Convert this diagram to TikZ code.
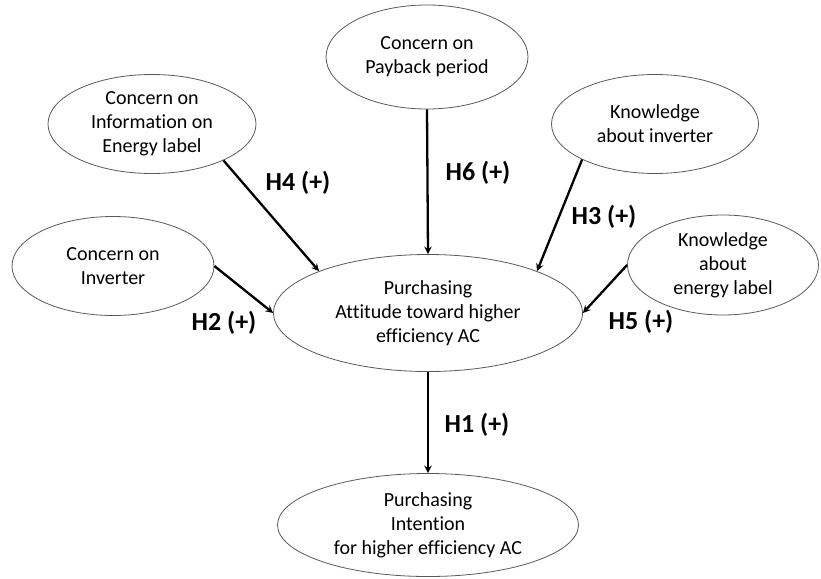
\documentclass[tikz,border=0pt]{standalone}
\usepackage{fontspec}
\setmainfont{Carlito}[Ligatures=NoCommon]
\usepackage{tikz}
\usetikzlibrary{shapes.geometric}

\begin{document}
\begin{tikzpicture}[x=1pt, y=-1pt,
    factor/.style={ellipse, draw=black!65, line width=0.8pt, inner sep=0pt,
                   align=center, font=\fontsize{20}{24}\selectfont},
    arr/.style={->, >=stealth, line width=2.3pt, color=black},
    hyp/.style={font=\fontsize{26}{30}\selectfont\bfseries}
  ]
    \useasboundingbox (0,0) rectangle (821,578);
    \node[factor, minimum width=202, minimum height=104] (PB) at (427, 57)  {Concern on\\Payback period};
    \node[factor, minimum width=208, minimum height=99]  (EL) at (152,124)  {Concern on\\Information on\\Energy label};
    \node[factor, minimum width=202, minimum height=99]  (CI) at (113,266)  {Concern on\\Inverter};
    \node[factor, minimum width=207, minimum height=99]  (KI) at (655,124)  {Knowledge\\about inverter};
    \node[factor, minimum width=191, minimum height=100] (KE) at (723,265)  {Knowledge\\about\\energy label};
    \node[factor, minimum width=309, minimum height=117] (PA) at (428,313)  {Purchasing\\Attitude toward higher\\efficiency AC};
    \node[factor, minimum width=301, minimum height=103] (PI) at (428,525)  {Purchasing\\Intention\\for higher efficiency AC};
    \draw[arr](PB.270)--(PA.90);  \draw[arr](EL.333)--(PA.159.6);
    \draw[arr](CI.0)--(PA.180);   \draw[arr](KI.206.6)--(PA.21.5);
    \draw[arr](KE.180)--(PA.0);   \draw[arr](PA.270)--(PI.90);
    \node[hyp] (H6) at (478,173) {H6 (+)};
    \node[hyp] (H4) at (298,183) {H4 (+)};
    \node[hyp] (H2) at (224,323) {H2 (+)};
    \node[hyp] (H3) at (604,217) {H3 (+)};
    \node[hyp] (H5) at (641,322) {H5 (+)};
    \node[hyp] (H1) at (477,425) {H1 (+)};
  \end{tikzpicture}
\end{document}
